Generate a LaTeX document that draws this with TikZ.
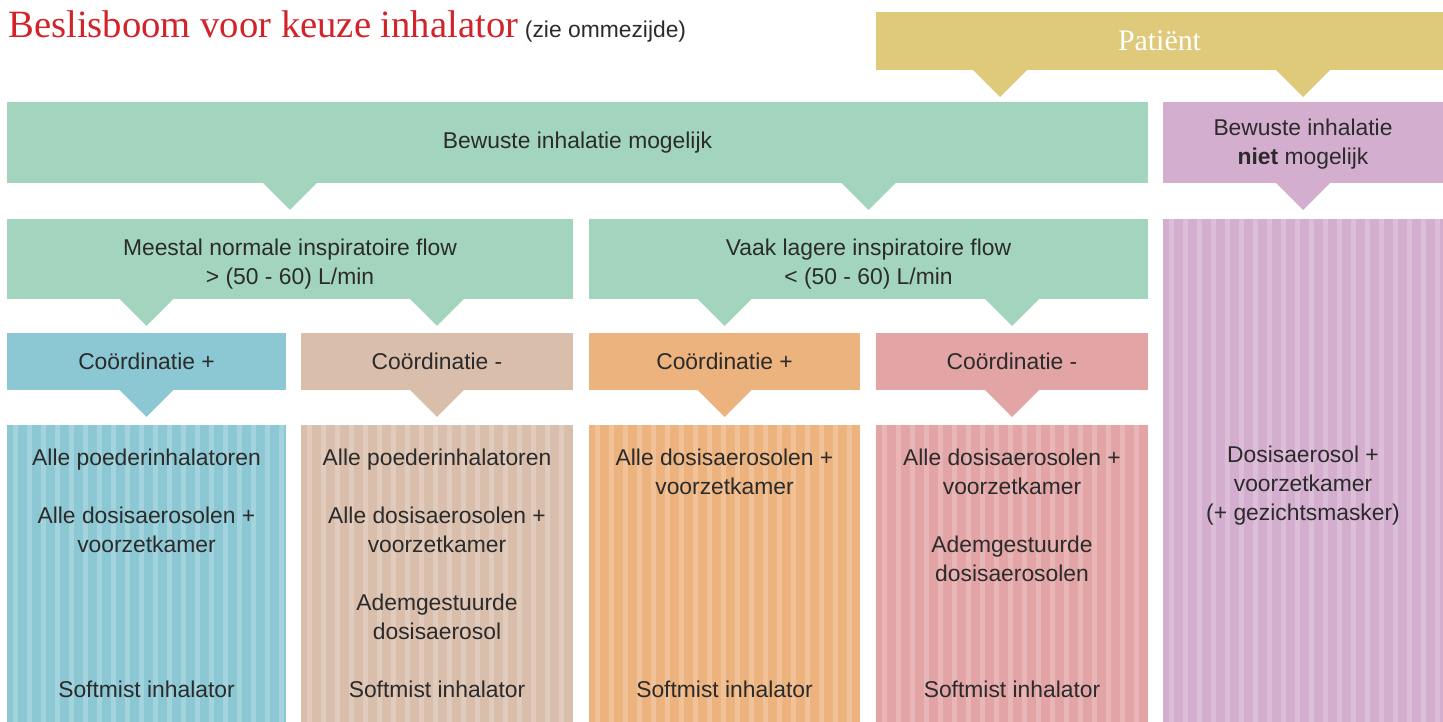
\documentclass[tikz,border=0pt]{standalone}
\usepackage{fontspec}
\setmainfont{Liberation Sans}
\newfontfamily\titelfont{Liberation Serif}
\definecolor{titelrood}{HTML}{D2232A}
\definecolor{goud}{HTML}{DFC97A}
\definecolor{groen}{HTML}{A3D5BE}
\definecolor{paars}{HTML}{D4AECF}
\definecolor{blauw}{HTML}{8CC8D3}
\definecolor{beige}{HTML}{D9BEAB}
\definecolor{oranje}{HTML}{EDB37E}
\definecolor{roze}{HTML}{E3A4A5}
\definecolor{tekst}{HTML}{2B2B2B}
\newcommand{\pijl}[3]{\fill[#3] (#1.south -| #2) ++(-27,0) -- ++(27,27) -- ++(27,-27) -- cycle;}

\begin{document}
\begin{tikzpicture}[x=0.02cm,y=-0.02cm,
    letters/.style={text=tekst,font=\fontsize{13}{16.5}\selectfont,align=center},
    box/.style={letters,fill=#1,inner sep=0pt,outer sep=0pt},
    streep/.style={box=#1,path picture={
        \foreach \i in {0,...,21}
            \fill[#1!80!white] ([xshift={\i*0.28cm+0.12cm}]path picture bounding box.south west) rectangle ++(0.1cm,12cm);}}]
        \useasboundingbox (0,0) rectangle (1443,722);

        \node[anchor=base west,inner sep=0pt,text=titelrood,font=\titelfont\fontsize{22}{24}\selectfont] (titel) at (8,38) {Beslisboom voor keuze inhalator};
        \node[anchor=base west,inner sep=0pt,letters,font=\fontsize{13}{14}\selectfont] (zie) at ([xshift=0.12cm]titel.base east) {(zie ommezijde)};

        \node[box=goud,text=white,font=\titelfont\fontsize{17}{20}\selectfont,minimum width=11.34cm,minimum height=1.16cm] (patient) at (1159.5,41) {Patiënt};
        \coordinate (patL) at (1000,0);

        \node[box=groen,minimum width=22.82cm,minimum height=1.62cm] (bewust) at (577.5,142.5) {Bewuste inhalatie mogelijk};
        \node[box=paars,minimum width=5.6cm,minimum height=1.62cm,text height=0.99cm] (niet) at (1303,142.5) {Bewuste inhalatie\\ \textbf{niet} mogelijk};

        \node[box=groen,minimum width=11.32cm,minimum height=1.6cm,text height=1.11cm] (hoog) at (290,259) {Meestal normale inspiratoire flow\\ > (50 - 60) L/min};
        \node[box=groen,minimum width=11.18cm,minimum height=1.6cm,text height=1.11cm] (laag) at (868.5,259) {Vaak lagere inspiratoire flow\\ < (50 - 60) L/min};
        \node[streep=paars,minimum width=5.6cm,minimum height=10.06cm] (lijstE) at (1303,470.5) {};
        \node[letters] (tekstE) at (1303,486) {Dosisaerosol +\\ voorzetkamer\\ (+ gezichtsmasker)};

        \node[box=blauw,minimum width=5.58cm,minimum height=1.14cm] (coA) at (146.5,361.5) {Coördinatie +};
        \node[box=beige,minimum width=5.44cm,minimum height=1.14cm] (coB) at (437,361.5) {Coördinatie -};
        \node[box=oranje,minimum width=5.42cm,minimum height=1.14cm] (coC) at (724.5,361.5) {Coördinatie +};
        \node[box=roze,minimum width=5.44cm,minimum height=1.14cm] (coD) at (1012,361.5) {Coördinatie -};

        \node[streep=blauw,minimum width=5.58cm,minimum height=5.94cm] (lijstA) at (146.5,573.5) {Alle poederinhalatoren\\[0.58cm] Alle dosisaerosolen +\\ voorzetkamer\\[2.32cm] Softmist inhalator};
        \node[streep=beige,minimum width=5.44cm,minimum height=5.94cm] (lijstB) at (437,573.5) {Alle poederinhalatoren\\[0.58cm] Alle dosisaerosolen +\\ voorzetkamer\\[0.58cm] Ademgestuurde\\ dosisaerosol\\[0.58cm] Softmist inhalator};
        \node[streep=oranje,minimum width=5.42cm,minimum height=5.94cm] (lijstC) at (724.5,573.5) {Alle dosisaerosolen +\\ voorzetkamer\\[3.48cm] Softmist inhalator};
        \node[streep=roze,minimum width=5.44cm,minimum height=5.94cm] (lijstD) at (1012,573.5) {Alle dosisaerosolen +\\ voorzetkamer\\[0.58cm] Ademgestuurde\\ dosisaerosolen\\[1.74cm] Softmist inhalator};

        \pijl{patient}{patL}{goud}
        \pijl{patient}{niet}{goud}
        \pijl{bewust}{hoog}{groen}
        \pijl{bewust}{laag}{groen}
        \pijl{niet}{lijstE}{paars}
        \pijl{hoog}{coA}{groen}
        \pijl{hoog}{coB}{groen}
        \pijl{laag}{coC}{groen}
        \pijl{laag}{coD}{groen}
        \pijl{coA}{lijstA}{blauw}
        \pijl{coB}{lijstB}{beige}
        \pijl{coC}{lijstC}{oranje}
        \pijl{coD}{lijstD}{roze}
    \end{tikzpicture}
\end{document}
